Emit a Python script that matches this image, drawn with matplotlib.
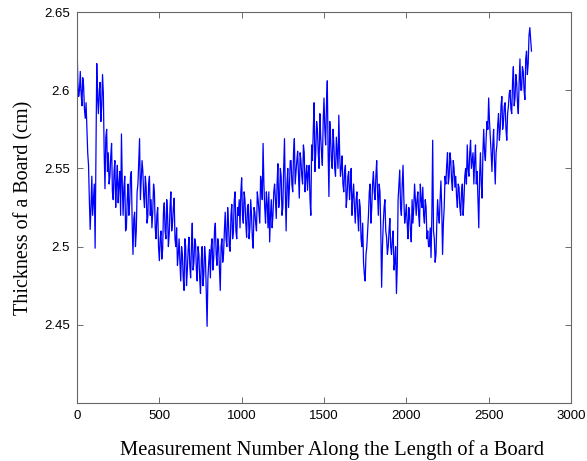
import numpy as np
import matplotlib
matplotlib.use("Agg")
import matplotlib.pyplot as plt

thickness_even = [
    2.630, 2.596, 2.612, 2.590, 2.603, 2.582, 2.575, 2.552, 2.511, 2.545,
    2.530, 2.499, 2.617, 2.585, 2.605, 2.590, 2.598, 2.537, 2.575, 2.560,
    2.545, 2.566, 2.530, 2.555, 2.540, 2.528, 2.548, 2.572, 2.520, 2.545,
    2.512, 2.540, 2.528, 2.548, 2.495, 2.522, 2.510, 2.540, 2.569, 2.542,
    2.548, 2.525, 2.538, 2.519, 2.545, 2.530, 2.522, 2.535, 2.505, 2.525,
    2.491, 2.510, 2.498, 2.528, 2.505, 2.520, 2.508, 2.535, 2.515, 2.531,
    2.500, 2.488, 2.505, 2.478, 2.495, 2.472, 2.500, 2.485, 2.506, 2.480,
    2.515, 2.490, 2.502, 2.478, 2.495, 2.470, 2.500, 2.482, 2.493, 2.449,
    2.490, 2.480, 2.505, 2.492, 2.515, 2.488, 2.500, 2.472, 2.505, 2.495,
    2.522, 2.500, 2.515, 2.497, 2.527, 2.510, 2.535, 2.505, 2.520, 2.512,
    2.544, 2.515, 2.530, 2.506, 2.527, 2.512, 2.520, 2.499, 2.522, 2.510,
    2.530, 2.515, 2.540, 2.566, 2.525, 2.535, 2.512, 2.503, 2.530, 2.520,
    2.540, 2.518, 2.553, 2.530, 2.545, 2.525, 2.569, 2.510, 2.550, 2.538,
    2.555, 2.535, 2.569, 2.548, 2.561, 2.531, 2.555, 2.540, 2.560, 2.545,
    2.536, 2.552, 2.520, 2.555, 2.592, 2.560, 2.575, 2.550, 2.570, 2.552,
    2.595, 2.565, 2.606, 2.532, 2.570, 2.550, 2.565, 2.545, 2.560, 2.584,
    2.545, 2.558, 2.535, 2.552, 2.532, 2.548, 2.538, 2.520, 2.540, 2.515,
    2.535, 2.510, 2.525, 2.500, 2.490, 2.478, 2.500, 2.520, 2.540, 2.525,
    2.548, 2.530, 2.555, 2.520, 2.535, 2.474, 2.515, 2.530, 2.506, 2.500,
    2.518, 2.495, 2.510, 2.490, 2.470, 2.530, 2.549, 2.520, 2.552, 2.515,
    2.527, 2.505, 2.520, 2.503, 2.515, 2.540, 2.520, 2.535, 2.513, 2.530,
    2.538, 2.515, 2.525, 2.510, 2.500, 2.493, 2.568, 2.505, 2.495, 2.530,
    2.515, 2.542, 2.495, 2.525, 2.540, 2.560, 2.545, 2.555, 2.536, 2.550,
    2.545, 2.525, 2.538, 2.520, 2.540, 2.530, 2.550, 2.565, 2.545, 2.568,
    2.555, 2.540, 2.565, 2.548, 2.512, 2.560, 2.531, 2.575, 2.555, 2.580,
    2.595, 2.570, 2.548, 2.575, 2.540, 2.565, 2.585, 2.575, 2.596, 2.580,
    2.592, 2.568, 2.590, 2.600, 2.585, 2.615, 2.595, 2.605, 2.585, 2.620,
    2.600, 2.612, 2.594, 2.625, 2.617, 2.640, 2.625,
]
thickness_odd = [
    2.605, 2.600, 2.598, 2.608, 2.588, 2.592, 2.560, 2.530, 2.525, 2.520,
    2.540, 2.560, 2.595, 2.600, 2.580, 2.610, 2.560, 2.570, 2.548, 2.540,
    2.558, 2.535, 2.548, 2.525, 2.552, 2.540, 2.520, 2.540, 2.538, 2.510,
    2.530, 2.520, 2.545, 2.515, 2.518, 2.500, 2.535, 2.555, 2.530, 2.555,
    2.532, 2.545, 2.515, 2.540, 2.520, 2.512, 2.540, 2.512, 2.520, 2.500,
    2.505, 2.492, 2.522, 2.510, 2.530, 2.500, 2.525, 2.510, 2.525, 2.505,
    2.512, 2.495, 2.490, 2.500, 2.480, 2.505, 2.475, 2.498, 2.488, 2.500,
    2.485, 2.505, 2.485, 2.500, 2.480, 2.492, 2.475, 2.500, 2.470, 2.480,
    2.498, 2.500, 2.485, 2.510, 2.495, 2.505, 2.485, 2.500, 2.490, 2.510,
    2.505, 2.525, 2.500, 2.520, 2.505, 2.530, 2.510, 2.525, 2.530, 2.535,
    2.520, 2.535, 2.515, 2.525, 2.505, 2.530, 2.505, 2.525, 2.515, 2.535,
    2.522, 2.545, 2.530, 2.540, 2.515, 2.528, 2.535, 2.520, 2.512, 2.535,
    2.530, 2.540, 2.525, 2.550, 2.520, 2.550, 2.535, 2.540, 2.525, 2.555,
    2.540, 2.560, 2.540, 2.555, 2.545, 2.560, 2.545, 2.565, 2.535, 2.552,
    2.548, 2.530, 2.565, 2.575, 2.548, 2.580, 2.560, 2.585, 2.560, 2.580,
    2.575, 2.590, 2.560, 2.580, 2.555, 2.575, 2.550, 2.570, 2.550, 2.560,
    2.550, 2.540, 2.548, 2.525, 2.545, 2.530, 2.550, 2.532, 2.525, 2.530,
    2.520, 2.530, 2.505, 2.515, 2.482, 2.495, 2.510, 2.535, 2.515, 2.540,
    2.535, 2.545, 2.535, 2.540, 2.510, 2.500, 2.525, 2.510, 2.495, 2.510,
    2.500, 2.505, 2.485, 2.500, 2.488, 2.540, 2.525, 2.540, 2.530, 2.520,
    2.515, 2.525, 2.510, 2.530, 2.525, 2.530, 2.530, 2.520, 2.540, 2.525,
    2.520, 2.530, 2.505, 2.500, 2.512, 2.520, 2.510, 2.490, 2.515, 2.520,
    2.530, 2.525, 2.515, 2.545, 2.552, 2.540, 2.560, 2.542, 2.555, 2.538,
    2.532, 2.540, 2.525, 2.535, 2.520, 2.545, 2.540, 2.550, 2.560, 2.550,
    2.560, 2.555, 2.540, 2.530, 2.545, 2.540, 2.560, 2.560, 2.570, 2.575,
    2.580, 2.560, 2.565, 2.555, 2.560, 2.578, 2.568, 2.590, 2.575, 2.590,
    2.575, 2.585, 2.598, 2.588, 2.605, 2.590, 2.610, 2.592, 2.605, 2.600,
    2.615, 2.600, 2.620, 2.610, 2.635, 2.632,
]
step = 5

xticks = [0, 500, 1000, 1500, 2000, 2500, 3000]
yticks = [2.45, 2.5, 2.55, 2.6, 2.65]
ytick_labels = ["2.45", "2.5", "2.55", "2.6", "2.65"]

thickness = np.empty(len(thickness_even) + len(thickness_odd))
thickness[0::2] = thickness_even
thickness[1::2] = thickness_odd
measurement = np.arange(len(thickness)) * step

fig = plt.figure(figsize=(5.87, 4.61), dpi=100)
ax = fig.add_axes([77/587, 1 - 403/461, (571-77)/587, (403-12)/461])
ax.plot(measurement, thickness, color="#0000ff", lw=0.9)

ax.set_xlim(0, 3000)
ax.set_ylim(2.4, 2.65)
ax.set_xticks(xticks)
ax.set_yticks(yticks)
ax.set_yticklabels(ytick_labels)
for lab in ax.get_xticklabels() + ax.get_yticklabels():
    lab.set_fontfamily("Liberation Sans")
    lab.set_fontsize(9.5)
ax.tick_params(direction="in", top=True, right=True, length=4, width=0.6,
               color="#555555", pad=5)
for s in ax.spines.values():
    s.set_color("#666666")
    s.set_linewidth(0.8)

ax.set_xlabel("Measurement Number Along the Length of a Board",
              fontfamily="Liberation Serif", fontsize=14.8)
ax.xaxis.set_label_coords(0.516, -0.095)
ax.set_ylabel("Thickness of a Board (cm)",
              fontfamily="Liberation Serif", fontsize=14.5, labelpad=8)

fig.savefig("out.png", dpi=100)
